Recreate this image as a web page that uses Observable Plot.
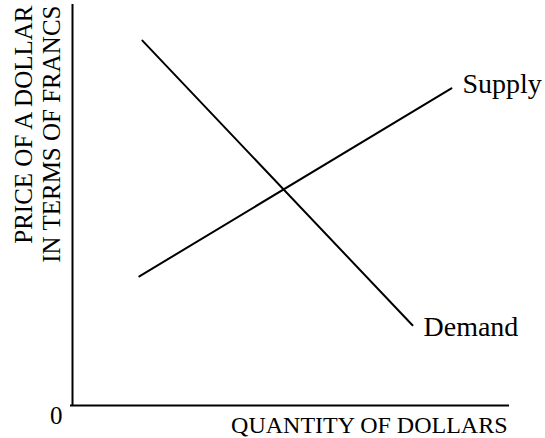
<!DOCTYPE html>
<html>
<head>
<meta charset="utf-8">
<script src="https://cdn.jsdelivr.net/npm/d3@7"></script>
<script src="https://cdn.jsdelivr.net/npm/@observablehq/plot@0.6"></script>
<style>
  html, body { margin: 0; padding: 0; background: #fff; }
  #chart svg { display: block; }
</style>
</head>
<body>
<div id="chart"></div>
<script>
// Schematic supply/demand curves (arbitrary units, 0–100)
const supplyQuantity = [15.3, 86.7];
const supplyPrice = [32.2, 79.1];
const demandQuantity = [16.0, 77.8];
const demandPrice = [91.0, 20.0];
const seriesNames = ["Supply", "Demand"];
const xLabel = "QUANTITY OF DOLLARS";
const yLabel = "PRICE OF A DOLLAR\nIN TERMS OF FRANCS";
const originLabel = "0";

const supply = supplyQuantity.map((q, i) => ({q, p: supplyPrice[i], name: seriesNames[0]}));
const demand = demandQuantity.map((q, i) => ({q, p: demandPrice[i], name: seriesNames[1]}));

const font = "'Liberation Serif', 'Times New Roman', serif";

const chart = Plot.plot({
  width: 545,
  height: 438,
  marginTop: 4,
  marginBottom: 33,
  marginLeft: 72,
  marginRight: 36,
  style: {fontFamily: font, color: "#000", background: "#fff", overflow: "visible"},
  x: {domain: [0, 100], axis: null},
  y: {domain: [0, 100], axis: null},
  marks: [
    Plot.ruleX([0], {stroke: "#000", strokeWidth: 2, insetBottom: -1}),
    Plot.ruleY([0], {stroke: "#000", strokeWidth: 2, insetLeft: -2}),
    Plot.line(supply, {x: "q", y: "p", stroke: "#000", strokeWidth: 2}),
    Plot.line(demand, {x: "q", y: "p", stroke: "#000", strokeWidth: 2}),
    Plot.text(supply, Plot.selectLast({x: "q", y: "p", text: "name", textAnchor: "start", lineAnchor: "middle", dx: 11, dy: -4, fontSize: 28, fill: "#000"})),
    Plot.text(demand, Plot.selectLast({x: "q", y: "p", text: "name", textAnchor: "start", lineAnchor: "middle", dx: 11, dy: 2, fontSize: 28, fill: "#000"})),
    Plot.text([xLabel], {frameAnchor: "bottom-right", textAnchor: "end", lineAnchor: "middle", dx: -2, dy: 20, fontSize: 24, fill: "#000"}),
    Plot.text([originLabel], {frameAnchor: "bottom-left", textAnchor: "end", lineAnchor: "middle", dx: -10, dy: 10, fontSize: 25, fill: "#000"}),
    Plot.text([yLabel], {frameAnchor: "top-left", rotate: -90, textAnchor: "end", lineAnchor: "top", lineHeight: 1.12, dx: -60, dy: 1, fontSize: 25, fill: "#000"})
  ]
});
document.getElementById("chart").appendChild(chart);
</script>
</body>
</html>
